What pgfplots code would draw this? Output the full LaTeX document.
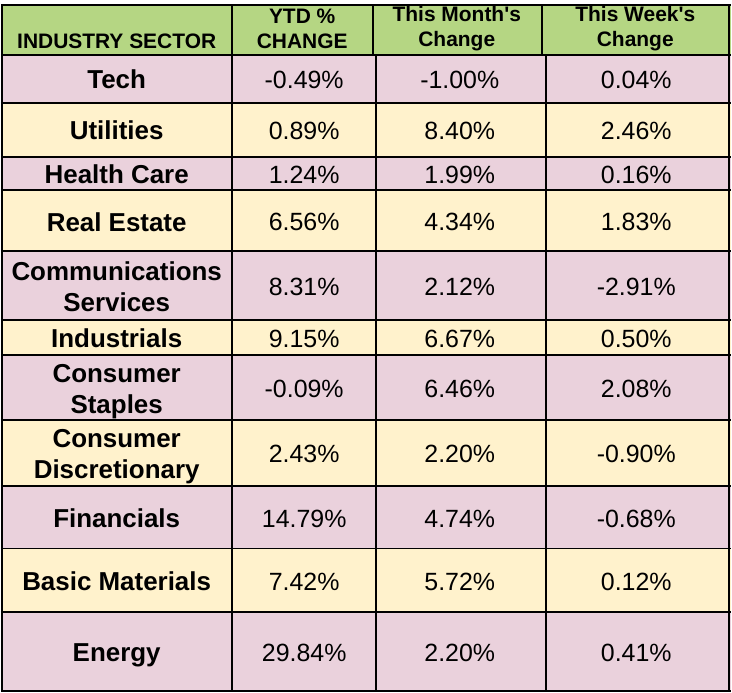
\documentclass[border=0pt]{standalone}
\usepackage{pgfplots}
\usepackage{pgfplotstable}
\pgfplotsset{compat=1.18}
\usepackage{fontspec}
\setmainfont{Liberation Sans}

\definecolor{headgreen}{HTML}{B5D683}
\definecolor{rowpink}{HTML}{EAD1DC}
\definecolor{rowyellow}{HTML}{FFF2CC}

% row centre (px from top), sector, YTD, month, week
\pgfplotstableread[col sep=comma]{
y,name,ytd,month,week
76,Tech,-0.49,-1.00,0.04
127,Utilities,0.89,8.40,2.46
171,Health Care,1.24,1.99,0.16
218.5,Real Estate,6.56,4.34,1.83
283.5,Communications\\Services,8.31,2.12,-2.91
335.5,Industrials,9.15,6.67,0.50
385.5,Consumer\\Staples,-0.09,6.46,2.08
451,Consumer\\Discretionary,2.43,2.20,-0.90
515.5,Financials,14.79,4.74,-0.68
579,Basic Materials,7.42,5.72,0.12
650.5,Energy,29.84,2.20,0.41
}\sectors

\newcommand\band[3]{\addplot[fill=#3,draw=none] coordinates {(0,#1) (732,#1) (732,#2) (0,#2)} -- cycle;}
\newcommand\rowline[1]{\addplot[black,line width=1pt] coordinates {(0,#1) (732,#1)};}

\begin{document}
\begin{tikzpicture}
\begin{axis}[
width=366pt,height=346pt,scale only axis,
xmin=0,xmax=732,ymin=0,ymax=692,
y dir=reverse,
hide axis,clip=false,
]
% cell backgrounds
\band{2}{52}{headgreen}
\band{52}{100}{rowpink}
\band{100}{154}{rowyellow}
\band{154}{188}{rowpink}
\band{188}{249}{rowyellow}
\band{249}{318}{rowpink}
\band{318}{353}{rowyellow}
\band{353}{418}{rowpink}
\band{418}{484}{rowyellow}
\band{484}{547}{rowpink}
\band{547}{611}{rowyellow}
\band{611}{690}{rowpink}

% grid
\rowline{2}\rowline{52}\rowline{100}\rowline{154}\rowline{188}\rowline{249}
\rowline{318}\rowline{353}\rowline{418}\rowline{484}\rowline{547}\rowline{611}\rowline{690}
\addplot[black,line width=1pt] coordinates {(1,2) (1,690)};
\addplot[black,line width=1pt] coordinates {(730,2) (730,690)};
\addplot[black,line width=1pt] coordinates {(232,2) (232,690)};
\addplot[black,line width=1pt] coordinates {(373,2) (373,52)};
\addplot[black,line width=1pt] coordinates {(376,52) (376,690)};
\addplot[black,line width=1pt] coordinates {(542,2) (542,52)};
\addplot[black,line width=1pt] coordinates {(546,52) (546,690)};

% header
\addplot[only marks,mark=none,point meta=explicit symbolic,
  nodes near coords,
  nodes near coords style={anchor=center,align=center,
    font=\bfseries\fontsize{10.5}{12.5}\selectfont}]
  coordinates {(302,26)[YTD \%\\CHANGE] (457,26)[This Month\textquotesingle s\\Change] (636,26)[This Week\textquotesingle s\\Change]};
\addplot[only marks,mark=none,point meta=explicit symbolic,
  nodes near coords,
  nodes near coords style={anchor=base,inner sep=0pt,
    font=\bfseries\fontsize{10.5}{12.5}\selectfont}]
  coordinates {(116,46)[INDUSTRY SECTOR]};

% sector names
\addplot[only marks,mark=none,point meta=explicit symbolic,
  nodes near coords={\strut\pgfplotspointmeta\strut},
  nodes near coords style={anchor=center,align=center,yshift=-2pt,
    font=\bfseries\fontsize{13}{15.5}\selectfont}]
  table[x expr=116,y=y,meta=name] {\sectors};

% values
\pgfplotsset{valstyle/.style={only marks,mark=none,point meta=explicit symbolic,
  nodes near coords={\strut\pgfplotspointmeta\%},
  nodes near coords style={anchor=center,yshift=-2pt,font=\fontsize{12.5}{15}\selectfont}}}
\addplot[valstyle] table[x expr=304,y=y,meta=ytd] {\sectors};
\addplot[valstyle] table[x expr=460,y=y,meta=month] {\sectors};
\addplot[valstyle] table[x expr=637,y=y,meta=week] {\sectors};
\end{axis}
\end{tikzpicture}
\end{document}
